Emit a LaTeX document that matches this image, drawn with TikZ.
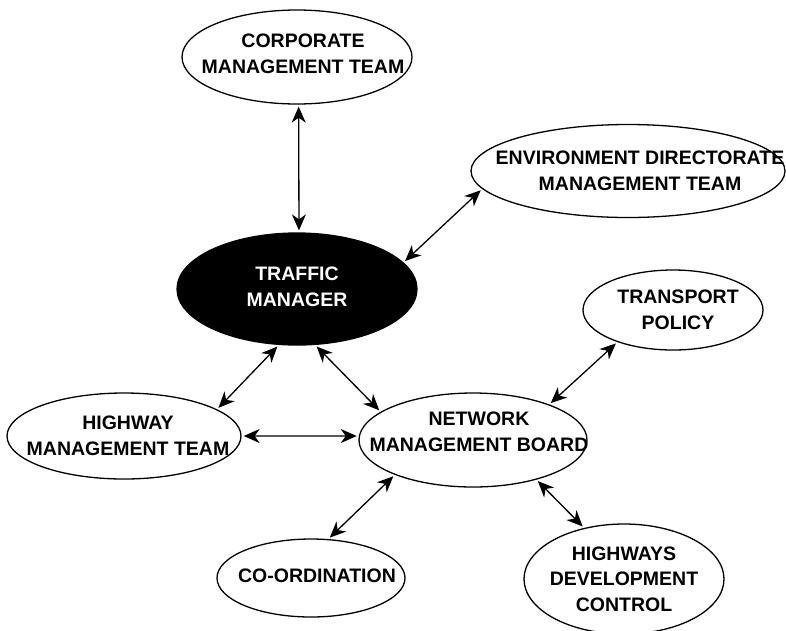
\documentclass[tikz,border=0pt]{standalone}
\usepackage{fontspec}
\setmainfont{Liberation Sans}
\usetikzlibrary{shapes.geometric, arrows.meta}

\begin{document}
\begin{tikzpicture}[x=1pt, y=-1pt, font=\fontsize{19.5}{25.5}\selectfont\bfseries,
    bubble/.style={ellipse, draw, line width=1.3pt, inner sep=0pt},
    words/.style={align=center},
    link/.style={{Stealth[length=16pt, width=14pt, inset=5pt]}-{Stealth[length=16pt, width=14pt, inset=5pt]},
        line width=1.3pt, shorten <=2pt, shorten >=2pt}]

    \useasboundingbox (0,0) rectangle (786,630);

    % Traffic manager
    \node[bubble, fill=black, minimum width=240, minimum height=112,
        label={[words, white, yshift=2pt]center:TRAFFIC\\MANAGER}] (traffic) at (297,289) {};

    % Outer bodies
    \node[bubble, minimum width=230, minimum height=94,
        label={[words, xshift=6pt, yshift=3pt]center:CORPORATE\\MANAGEMENT TEAM}] (corp) at (297,57) {};
    \node[bubble, minimum width=314, minimum height=93,
        label={[words, xshift=12pt]center:ENVIRONMENT DIRECTORATE\\MANAGEMENT TEAM}] (env) at (628,171) {};
    \node[bubble, minimum width=234, minimum height=86,
        label={[words, xshift=4pt]center:HIGHWAY\\MANAGEMENT TEAM}] (highway) at (124,436) {};
    \node[bubble, minimum width=228, minimum height=94,
        label={[words, xshift=6pt, yshift=8pt]center:NETWORK\\MANAGEMENT BOARD}] (network) at (473,440) {};
    \node[bubble, minimum width=180, minimum height=80,
        label={[words, xshift=5pt]center:TRANSPORT\\POLICY}] (transport) at (673,310) {};
    \node[bubble, minimum width=188, minimum height=78,
        label={[words, xshift=6pt, yshift=2pt]center:CO-ORDINATION}] (coord) at (311,578) {};
    \node[bubble, minimum width=200, minimum height=110,
        label={[words]center:HIGHWAYS\\DEVELOPMENT\\CONTROL}] (hdc) at (624,579) {};

    % Links
    \draw[link] (corp.-88) -- (traffic.88);
    \draw[link] (env.187) -- (traffic.14);
    \draw[link] (highway.16) -- (traffic.252);
    \draw[link] (traffic.-72) -- (network.163);
    \draw[link] (highway.0) -- (network.178);
    \draw[link] (network.25) -- (transport.210);
    \draw[link] (network.204) -- (coord.66);
    \draw[link] (network.-32) -- (hdc.128);

\end{tikzpicture}
\end{document}
